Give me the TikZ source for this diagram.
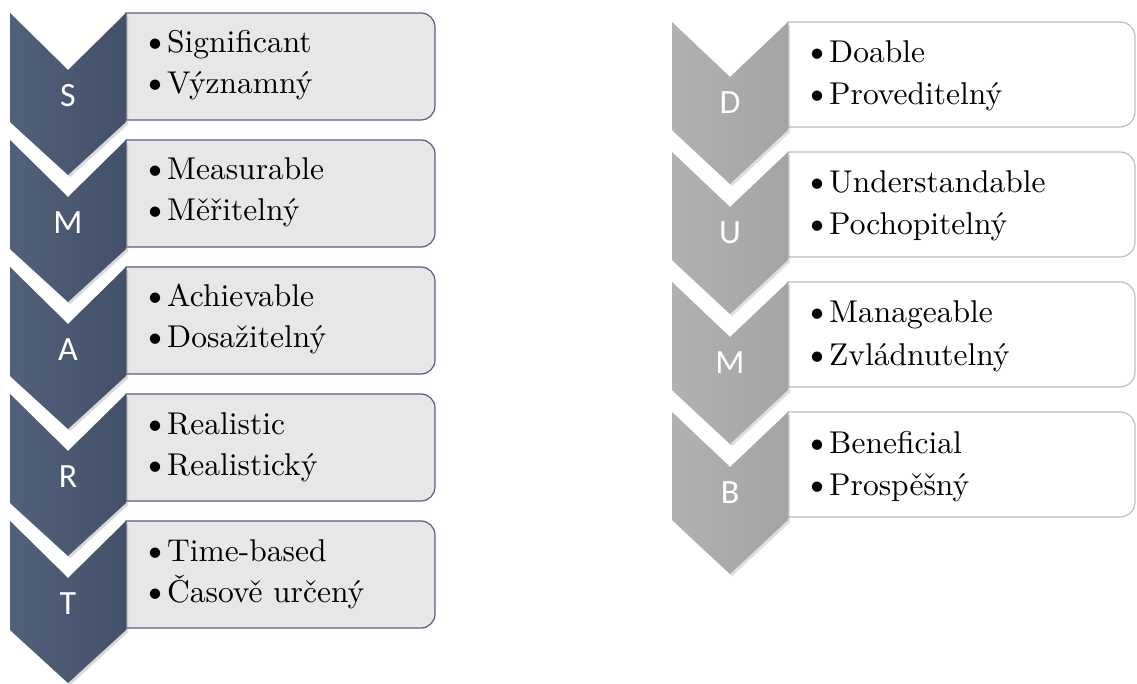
\documentclass[tikz,border=0pt]{standalone}
\usepackage{fontspec}
\usepackage{tikz}
\usetikzlibrary{shadows}
\newfontfamily\chevfont{Carlito}
\newfontfamily\itemfont{lmroman10-regular.otf}
\newcommand{\bul}{{\fontsize{36}{36}\selectfont\textbullet}\hspace{-2pt}}
\definecolor{slateL}{HTML}{52617A}
\definecolor{slateD}{HTML}{425169}
\definecolor{slateline}{HTML}{52617A}
\definecolor{boxgray}{HTML}{E8E7E7}
\definecolor{greyL}{HTML}{B1B1B1}
\definecolor{greyD}{HTML}{A4A4A4}
\definecolor{greyline}{HTML}{BEBEBE}

\begin{document}
\begin{tikzpicture}[x=1pt, y=1pt,
  darkchev/.style={left color=slateL, right color=slateD, drop shadow={opacity=0.3}},
  greychev/.style={left color=greyL, right color=greyD, drop shadow={opacity=0.25}},
  darkbox/.style={fill=boxgray, draw=slateline, line width=1.2pt},
  greybox/.style={fill=white, draw=greyline, line width=1.2pt},
  letter/.style={text=white, font=\chevfont\fontsize{34}{40}\selectfont, inner sep=0pt},
  item/.style={anchor=base west, inner sep=0pt, font=\itemfont\fontsize{31.5}{36}\selectfont}]
\useasboundingbox (0,0) rectangle (1137,-684);

% SMART - boxes
\draw [darkbox] (126,-13) -- (421,-13) arc[start angle=90, end angle=0, radius=14] -- (435,-106) arc[start angle=0, end angle=-90, radius=14] -- (126,-120) -- cycle;
\draw [darkbox] (126,-140) -- (421,-140) arc[start angle=90, end angle=0, radius=14] -- (435,-233) arc[start angle=0, end angle=-90, radius=14] -- (126,-247) -- cycle;
\draw [darkbox] (126,-267) -- (421,-267) arc[start angle=90, end angle=0, radius=14] -- (435,-360) arc[start angle=0, end angle=-90, radius=14] -- (126,-374) -- cycle;
\draw [darkbox] (126,-394) -- (421,-394) arc[start angle=90, end angle=0, radius=14] -- (435,-487) arc[start angle=0, end angle=-90, radius=14] -- (126,-501) -- cycle;
\draw [darkbox] (126,-521) -- (421,-521) arc[start angle=90, end angle=0, radius=14] -- (435,-614) arc[start angle=0, end angle=-90, radius=14] -- (126,-628) -- cycle;

% SMART - chevrons
\path [darkchev] (10,-13) -- (68,-70) -- (126,-13) -- (126,-122) -- (68,-175) -- (10,-122) -- cycle;
\path [darkchev] (10,-140) -- (68,-197) -- (126,-140) -- (126,-249) -- (68,-302) -- (10,-249) -- cycle;
\path [darkchev] (10,-267) -- (68,-324) -- (126,-267) -- (126,-376) -- (68,-429) -- (10,-376) -- cycle;
\path [darkchev] (10,-394) -- (68,-451) -- (126,-394) -- (126,-503) -- (68,-556) -- (10,-503) -- cycle;
\path [darkchev] (10,-521) -- (68,-578) -- (126,-521) -- (126,-630) -- (68,-683) -- (10,-630) -- cycle;

\node [letter] (s) at (68,-96) {S};
\node [letter] (m) at (68,-223) {M};
\node [letter] (a) at (68,-350) {A};
\node [letter] (r) at (68,-477) {R};
\node [letter] (t) at (68,-604) {T};

\node [item] (s1) at (141,-53) {\bul Significant};
\node [item] (s2) at (141,-94) {\bul Významný};
\node [item] (m1) at (141,-180) {\bul Measurable};
\node [item] (m2) at (141,-221) {\bul Měřitelný};
\node [item] (a1) at (141,-307) {\bul Achievable};
\node [item] (a2) at (141,-348) {\bul Dosažitelný};
\node [item] (r1) at (141,-434) {\bul Realistic};
\node [item] (r2) at (141,-475) {\bul Realistický};
\node [item] (t1) at (141,-561) {\bul Time-based};
\node [item] (t2) at (141,-602) {\bul Časově určený};

% DUMB - boxes
\draw [greybox] (788,-22) -- (1120,-22) arc[start angle=90, end angle=0, radius=15] -- (1135,-112) arc[start angle=0, end angle=-90, radius=15] -- (788,-127) -- cycle;
\draw [greybox] (788,-152) -- (1120,-152) arc[start angle=90, end angle=0, radius=15] -- (1135,-242) arc[start angle=0, end angle=-90, radius=15] -- (788,-257) -- cycle;
\draw [greybox] (788,-282) -- (1120,-282) arc[start angle=90, end angle=0, radius=15] -- (1135,-372) arc[start angle=0, end angle=-90, radius=15] -- (788,-387) -- cycle;
\draw [greybox] (788,-412) -- (1120,-412) arc[start angle=90, end angle=0, radius=15] -- (1135,-502) arc[start angle=0, end angle=-90, radius=15] -- (788,-517) -- cycle;

% DUMB - chevrons
\path [greychev] (672,-22) -- (730,-77) -- (788,-22) -- (788,-130) -- (730,-184) -- (672,-130) -- cycle;
\path [greychev] (672,-152) -- (730,-207) -- (788,-152) -- (788,-260) -- (730,-314) -- (672,-260) -- cycle;
\path [greychev] (672,-282) -- (730,-337) -- (788,-282) -- (788,-390) -- (730,-444) -- (672,-390) -- cycle;
\path [greychev] (672,-412) -- (730,-467) -- (788,-412) -- (788,-520) -- (730,-574) -- (672,-520) -- cycle;

\node [letter] (d) at (730,-103) {D};
\node [letter] (u) at (730,-233) {U};
\node [letter] (mm) at (730,-363) {M};
\node [letter] (b) at (730,-493) {B};

\node [item] (d1) at (803,-63) {\bul Doable};
\node [item] (d2) at (803,-105) {\bul Proveditelný};
\node [item] (u1) at (803,-193) {\bul Understandable};
\node [item] (u2) at (803,-235) {\bul Pochopitelný};
\node [item] (mm1) at (803,-323) {\bul Manageable};
\node [item] (mm2) at (803,-365) {\bul Zvládnutelný};
\node [item] (b1) at (803,-453) {\bul Beneficial};
\node [item] (b2) at (803,-495) {\bul Prospěšný};
\end{tikzpicture}
\end{document}
